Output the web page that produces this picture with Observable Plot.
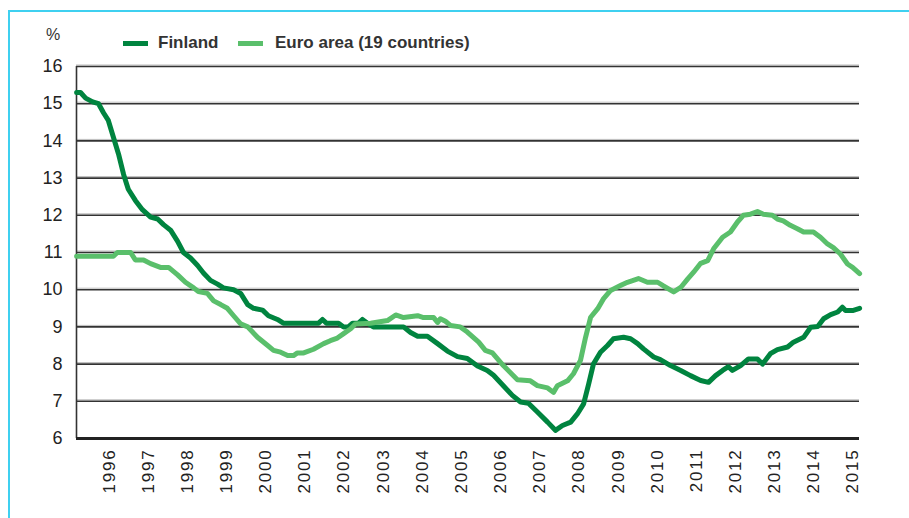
<!DOCTYPE html>
<html>
<head>
<meta charset="utf-8">
<script src="https://cdn.jsdelivr.net/npm/d3@7"></script>
<script src="https://cdn.jsdelivr.net/npm/@observablehq/plot@0.6"></script>
<style>
  html, body { margin: 0; padding: 0; background: #fff; }
  #wrap { position: relative; width: 909px; height: 518px; overflow: hidden; font-family: "Liberation Sans", Arial, sans-serif; }
  #frame { position: absolute; left: 8px; top: 10px; width: 905px; height: 520px; border-top: 2px solid #3fd0f0; border-left: 2px solid #3fd0f0; box-sizing: border-box; }
  .lg { position: absolute; font-weight: bold; font-size: 17px; color: #333; line-height: 20px; }
  .sw { position: absolute; height: 5px; width: 25px; }
  #unit { position: absolute; left: 46px; top: 26px; font-size: 16px; color: #333; }
  svg { position: absolute; left: 0; top: 0; }
  g[aria-label="x-axis tick label"] { font-size: 17px !important; letter-spacing: 1.8px; }
  g[aria-label="x-axis tick label"] text { font-size: 17px !important; }
  g[aria-label="y-axis tick label"] text { font-size: 18px !important; }
</style>
</head>
<body>
<div id="wrap">
  <div id="frame"></div>
  <div id="unit">%</div>
  <div class="sw" id="sw1" style="left:123px; top:41px;"></div>
  <div class="lg" style="left:158px; top:33px;">Finland</div>
  <div class="sw" id="sw2" style="left:238px; top:41px;"></div>
  <div class="lg" style="left:275px; top:33px;">Euro area (19 countries)</div>
</div>
<script>
// Series names and colours
const seriesNames = ["Finland", "Euro area (19 countries)"];
const seriesColors = ["#00843f", "#5abf6b"];

// Tick labels
const yearLabels = [1996,1997,1998,1999,2000,2001,2002,2003,2004,2005,2006,2007,2008,2009,2010,2011,2012,2013,2014,2015];
const yTicks = [6,7,8,9,10,11,12,13,14,15,16];

// Finland: [decimal year, unemployment rate %]
const finland = [
  [1995.67,15.3],[1995.77,15.3],[1995.90,15.15],[1996.08,15.05],[1996.23,15.0],[1996.36,14.75],
  [1996.48,14.55],[1996.61,14.1],[1996.74,13.65],[1996.87,13.1],[1996.99,12.7],[1997.17,12.4],
  [1997.35,12.15],[1997.56,11.95],[1997.74,11.9],[1997.89,11.75],[1998.07,11.6],[1998.25,11.3],
  [1998.40,11.0],[1998.58,10.85],[1998.76,10.65],[1998.91,10.45],[1999.09,10.25],[1999.27,10.15],
  [1999.42,10.05],[1999.68,10.0],[1999.86,9.9],[2000.04,9.6],[2000.19,9.5],[2000.42,9.45],
  [2000.57,9.3],[2000.80,9.2],[2000.95,9.1],[2001.85,9.1],[2001.95,9.2],[2002.05,9.1],
  [2002.36,9.1],[2002.49,9.0],[2002.61,9.0],[2002.72,9.1],[2002.87,9.1],[2002.97,9.2],
  [2003.10,9.1],[2003.25,9.0],[2004.02,9.0],[2004.20,8.85],[2004.38,8.75],[2004.63,8.75],
  [2004.89,8.55],[2005.14,8.35],[2005.40,8.2],[2005.65,8.15],[2005.91,7.95],[2006.16,7.83],
  [2006.32,7.7],[2006.57,7.42],[2006.80,7.16],[2007.01,6.98],[2007.21,6.95],[2007.44,6.71],
  [2007.70,6.44],[2007.90,6.22],[2008.08,6.35],[2008.29,6.44],[2008.46,6.66],[2008.62,6.93],
  [2008.75,7.47],[2008.87,8.0],[2009.05,8.32],[2009.23,8.5],[2009.38,8.68],[2009.64,8.72],
  [2009.82,8.68],[2010.00,8.55],[2010.15,8.41],[2010.41,8.19],[2010.58,8.12],[2010.84,7.96],
  [2011.10,7.83],[2011.35,7.69],[2011.61,7.56],[2011.81,7.51],[2011.99,7.69],[2012.17,7.83],
  [2012.32,7.93],[2012.42,7.83],[2012.63,7.96],[2012.83,8.14],[2013.06,8.14],[2013.19,8.0],
  [2013.39,8.28],[2013.57,8.39],[2013.83,8.46],[2013.98,8.59],[2014.24,8.72],[2014.42,8.99],
  [2014.60,9.01],[2014.75,9.22],[2014.93,9.33],[2015.11,9.4],[2015.23,9.53],[2015.31,9.44],
  [2015.49,9.44],[2015.67,9.5]
];

// Euro area (19 countries): [decimal year, unemployment rate %]
const euroArea = [
  [1995.67,10.9],[1996.61,10.9],[1996.71,11.0],[1997.05,11.0],[1997.17,10.8],[1997.38,10.8],
  [1997.56,10.7],[1997.81,10.6],[1998.02,10.6],[1998.25,10.4],[1998.45,10.2],[1998.66,10.05],
  [1998.78,9.95],[1999.01,9.9],[1999.17,9.7],[1999.35,9.6],[1999.52,9.5],[1999.68,9.3],
  [1999.86,9.08],[2000.04,9.0],[2000.29,8.72],[2000.55,8.5],[2000.70,8.37],[2000.88,8.32],
  [2001.06,8.23],[2001.21,8.23],[2001.31,8.3],[2001.47,8.3],[2001.72,8.4],[2001.98,8.55],
  [2002.15,8.63],[2002.33,8.7],[2002.49,8.82],[2002.67,8.95],[2002.79,9.08],[2003.18,9.1],
  [2003.61,9.17],[2003.82,9.32],[2004.02,9.25],[2004.38,9.3],[2004.53,9.25],[2004.79,9.25],
  [2004.89,9.12],[2004.96,9.22],[2005.09,9.15],[2005.22,9.04],[2005.47,9.0],[2005.65,8.86],
  [2005.94,8.59],[2006.11,8.37],[2006.29,8.3],[2006.57,7.96],[2006.93,7.58],[2007.26,7.55],
  [2007.44,7.42],[2007.70,7.36],[2007.85,7.24],[2007.95,7.42],[2008.21,7.55],[2008.36,7.74],
  [2008.54,8.1],[2008.67,8.72],[2008.80,9.26],[2008.98,9.49],[2009.13,9.76],[2009.31,9.98],
  [2009.56,10.11],[2009.74,10.2],[2010.02,10.3],[2010.25,10.2],[2010.51,10.2],[2010.66,10.1],
  [2010.92,9.94],[2011.10,10.06],[2011.28,10.29],[2011.43,10.47],[2011.61,10.71],[2011.79,10.78],
  [2011.94,11.1],[2012.17,11.41],[2012.37,11.55],[2012.55,11.82],[2012.70,12.0],[2012.88,12.03],
  [2013.06,12.1],[2013.21,12.03],[2013.44,12.0],[2013.57,11.9],[2013.72,11.85],[2013.90,11.73],
  [2014.08,11.64],[2014.24,11.55],[2014.49,11.55],[2014.67,11.41],[2014.85,11.23],[2015.00,11.13],
  [2015.18,10.96],[2015.36,10.69],[2015.49,10.6],[2015.67,10.43]
];

document.getElementById("sw1").style.background = seriesColors[0];
document.getElementById("sw2").style.background = seriesColors[1];

const xDomain = [1995.667, 2015.667];
const rows = [
  ...finland.map(([t, v]) => ({t, v, s: seriesNames[0]})),
  ...euroArea.map(([t, v]) => ({t, v, s: seriesNames[1]}))
];

const chart = Plot.plot({
  width: 909,
  height: 518,
  marginTop: 66,
  marginBottom: 80,
  marginLeft: 76,
  marginRight: 50,
  style: {fontFamily: "'Liberation Sans', Arial, sans-serif", color: "#222", background: "transparent"},
  x: {domain: xDomain, axis: null, label: null},
  y: {domain: [6, 16], axis: null, label: null},
  color: {domain: seriesNames, range: seriesColors},
  marks: [
    Plot.ruleY(yTicks.slice(1), {stroke: "#bbb", strokeWidth: 1, dy: -1.5}),
    Plot.ruleY(yTicks.slice(1), {stroke: "#333", strokeWidth: 1.6}),
    Plot.axisY({ticks: yTicks, tickSize: 0, tickPadding: 14, fontSize: 18, label: null, tickFormat: d => String(d)}),
    Plot.axisX({ticks: yearLabels.map(y => y + 0.5), tickFormat: d => String(Math.floor(d)), tickRotate: -90, tickSize: 0, tickPadding: 10, fontSize: 17, label: null}),
    Plot.ruleX([xDomain[0]], {stroke: "#333", strokeWidth: 1.6}),
    Plot.line(rows, {x: "t", y: "v", z: "s", stroke: "s", strokeWidth: 5, strokeLinejoin: "round", strokeLinecap: "round"}),
    Plot.ruleY([6], {stroke: "#222", strokeWidth: 3})
  ]
});
document.getElementById("wrap").appendChild(chart);
</script>
</body>
</html>
